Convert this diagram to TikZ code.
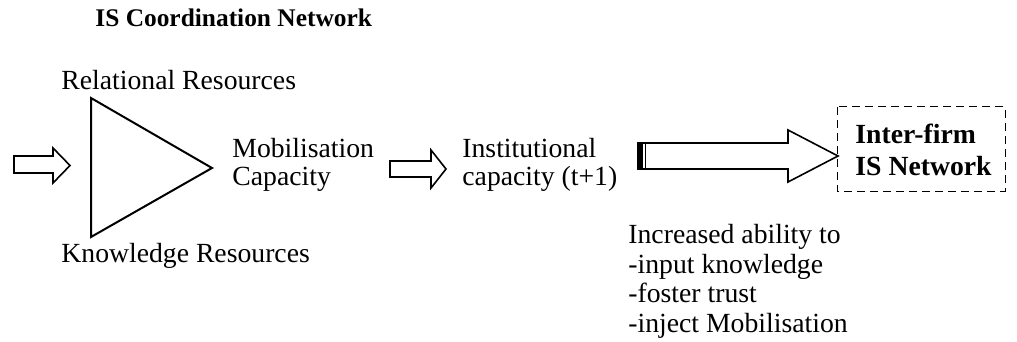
\documentclass[tikz,border=0pt]{standalone}
\usepackage{fontspec}
\setmainfont{Liberation Serif}
\begin{document}
\begin{tikzpicture}[x=0.5pt,y=-0.5pt,
  body/.style={inner sep=0pt,anchor=base west,align=left,font=\fontsize{13.85}{14}\selectfont},
  boldbody/.style={body,font=\fontsize{13.85}{16.5}\selectfont\bfseries},
  blockarrow/.style={draw,line width=0.8pt,line join=miter,fill=white},
  tri/.style={draw,line width=1pt,line join=miter},
  netbox/.style={draw,line width=0.5pt,dash pattern=on 4pt off 2.5pt},
]
\useasboundingbox (0,0) rectangle (1017,342);
% title
\node[body,font=\fontsize{12.7}{14}\selectfont\bfseries] (title) at (95,27) {IS Coordination Network};
% input arrow
\draw[blockarrow] (14,156) -- (53,156) -- (53,148) -- (70,165.5) -- (53,183) -- (53,173) -- (14,173) -- cycle;
% triangle
\coordinate (t1) at (91,98);
\coordinate (t2) at (91,237);
\coordinate (t3) at (212,168);
\draw[tri] (t1) -- (t3) -- (t2) -- cycle;
\node[body] (rel) at (61,90) {Relational Resources};
\node[body] (know) at (61,262) {Knowledge Resources};
\node[body] (mob) at (232,185) {Mobilisation\\Capacity};
% second arrow
\draw[blockarrow] (390,161) -- (431,161) -- (431,150) -- (446,169) -- (431,188) -- (431,177) -- (390,177) -- cycle;
\node[body] (inst) at (462,185) {Institutional\\capacity (t+1)};
% big arrow
\draw[blockarrow] (638,143) -- (788,143) -- (788,130) -- (838,156) -- (788,182) -- (788,169) -- (638,169) -- cycle;
\fill (638,143) rectangle (643,169);
\draw[line width=0.8pt] (645.5,143) -- (645.5,169);
% network box
\draw[netbox] (837,107) rectangle (1005,191);
\node[boldbody] (net) at (855,176) {Inter-firm\\IS Network};
% ability list
\node[body,font=\fontsize{13.85}{14.75}\selectfont] (abil) at (628,332) {Increased ability to\\-input knowledge\\-foster trust\\-inject Mobilisation};
\end{tikzpicture}
\end{document}
